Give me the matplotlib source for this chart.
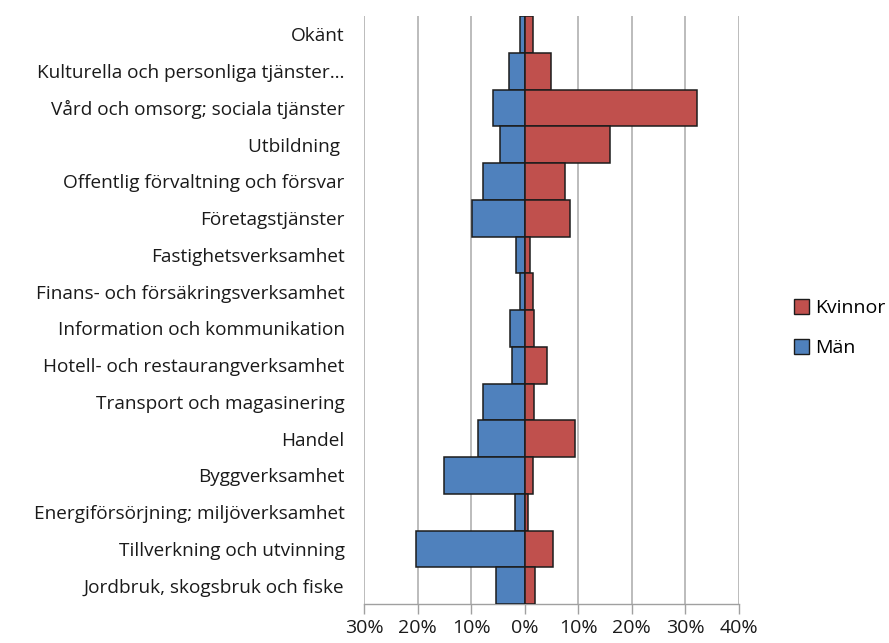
import matplotlib
matplotlib.use("Agg")
import matplotlib.pyplot as plt
from matplotlib.ticker import FuncFormatter
from matplotlib.patches import Patch

plt.rcParams['font.family'] = ['Open Sans', 'DejaVu Sans']

categories = [
    "Okänt",
    "Kulturella och personliga tjänster…",
    "Vård och omsorg; sociala tjänster",
    "Utbildning ",
    "Offentlig förvaltning och försvar",
    "Företagstjänster",
    "Fastighetsverksamhet",
    "Finans- och försäkringsverksamhet",
    "Information och kommunikation",
    "Hotell- och restaurangverksamhet",
    "Transport och magasinering",
    "Handel",
    "Byggverksamhet",
    "Energiförsörjning; miljöverksamhet",
    "Tillverkning och utvinning",
    "Jordbruk, skogsbruk och fiske",
]
man = [0.8, 2.9, 5.9, 4.6, 7.7, 9.9, 1.7, 0.8, 2.8, 2.3, 7.7, 8.8, 15.1, 1.9, 20.3, 5.3]
kvinnor = [1.6, 4.9, 32.1, 16.0, 7.6, 8.5, 1.0, 1.6, 1.8, 4.1, 1.8, 9.4, 1.6, 0.6, 5.2, 1.9]
xticks = [-30, -20, -10, 0, 10, 20, 30, 40]

blue = "#4F81BD"
red = "#C0504D"
edge = "#1c1c1c"

fig = plt.figure(figsize=(8.89, 6.43), dpi=100)
ax = fig.add_axes([364/889, 1 - 604/643, (739-364)/889, (604-16)/643])

n = len(categories)
ypos = list(range(n - 1, -1, -1))
ax.barh(ypos, [-v for v in man], height=1.0, color=blue, edgecolor=edge, linewidth=1.1, zorder=3)
ax.barh(ypos, kvinnor, height=1.0, color=red, edgecolor=edge, linewidth=1.1, zorder=3)

ax.set_xlim(-30, 40)
ax.set_ylim(-0.5, n - 0.5)
ax.set_xticks(xticks)
ax.xaxis.set_major_formatter(FuncFormatter(lambda v, p: f"{abs(int(round(v)))}%"))
ax.set_yticks(ypos)
ax.set_yticklabels(categories)
ax.tick_params(axis='y', length=0, pad=14, labelsize=13.7, colors="#1a1a1a")
ax.tick_params(axis='x', length=7, width=1, colors="#a0a0a0", labelcolor="#1a1a1a",
               labelsize=14, pad=4)

ax.grid(axis='x', color="#b0b0b0", linewidth=1.2, zorder=0)
ax.set_axisbelow(True)
for s in ['top', 'right', 'left']:
    ax.spines[s].set_visible(False)
ax.spines['bottom'].set_color("#a0a0a0")
ax.spines['bottom'].set_linewidth(1.0)

handles = [Patch(facecolor=red, edgecolor=edge, label="Kvinnor"),
           Patch(facecolor=blue, edgecolor=edge, label="Män")]
fig.legend(handles=handles, loc='center left', bbox_to_anchor=(776/889, 1 - 328/643),
           frameon=False, fontsize=14, handlelength=0.8, handleheight=0.8,
           handletextpad=0.3, labelspacing=1.1)

fig.savefig("out.png", dpi=100)
